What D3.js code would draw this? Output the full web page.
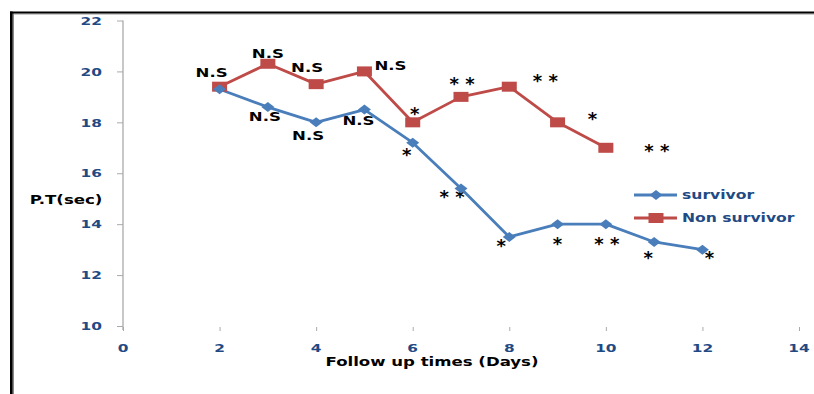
<!DOCTYPE html>
<html>
<head>
<meta charset="utf-8">
<script src="https://cdn.jsdelivr.net/npm/d3@7"></script>
<style>
  body { margin: 0; background: #fff; }
  svg { display: block; font-family: "DejaVu Sans", sans-serif; }
</style>
</head>
<body>
<div id="container"></div>
<script>
/* DATA */
const days = [2, 3, 4, 5, 6, 7, 8, 9, 10, 11, 12];
const survivor = [19.3, 18.6, 18.0, 18.5, 17.2, 15.4, 13.5, 14.0, 14.0, 13.3, 13.0];
const nonSurvivor = [19.4, 20.3, 19.5, 20.0, 18.0, 19.0, 19.4, 18.0, 17.0];
const survivorSig = ["", "N.S", "N.S", "N.S", "*", "* *", "*", "*", "* *", "*", "*"];
const nonSurvivorSig = ["N.S", "N.S", "N.S", "N.S", "*", "* *", "* *", "*", "* *"];
const xTicks = [0, 2, 4, 6, 8, 10, 12, 14];
const yTicks = [10, 12, 14, 16, 18, 20, 22];
const seriesNames = ["survivor", "Non survivor"];

/* LAYOUT */
const width = 814, height = 394;
const blue = "#4a7ebb", red = "#be4b48", tickBlue = "#1f4a84";
const stretch = 1.38; // the picture is squeezed wide, so text is too

// label offsets from their points (px)
const survOff = [null, [-3, 10], [-8, 14], [-6, 11], [-6, 10], [-9, 6], [-8, 7], [0, 18], [1, 18], [-6, 14], [7, 6]];
const nonOff = [[-8, -14], [0, -10], [-9, -16], [26, -6], [2, -10], [1, -15], [36, -8], [35, -5], [51, 1]];

const xScale = d3.scaleLinear().domain([0, 14]).range([123, 799]);
const yScale = d3.scaleLinear().domain([10, 22]).range([326, 20.5]);

const svg = d3.select("#container").append("svg")
  .attr("width", width).attr("height", height);

// frame (only top and left edges are in view)
svg.append("rect").attr("x", 10).attr("y", 13.5).attr("width", width).attr("height", 1).attr("fill", "#999");
svg.append("rect").attr("x", 12.5).attr("y", 12).attr("width", 1.5).attr("height", height).attr("fill", "#888");
svg.append("rect").attr("x", 10).attr("y", 11.5).attr("width", width).attr("height", 2).attr("fill", "#000");
svg.append("rect").attr("x", 10).attr("y", 11.5).attr("width", 2.6).attr("height", height).attr("fill", "#000");

function wideText(g, x, y, txt, opts = {}) {
  return g.append("text")
    .attr("transform", `translate(${x},${y}) scale(${opts.k || stretch},1)`)
    .attr("text-anchor", opts.anchor || "middle")
    .attr("dominant-baseline", opts.baseline || "central")
    .attr("font-size", opts.size || 12)
    .attr("font-weight", opts.weight || "bold")
    .attr("fill", opts.color || "#000")
    .text(txt);
}

/* AXES */
const yAxis = svg.append("g")
  .attr("transform", `translate(${xScale(0)},0)`)
  .call(d3.axisLeft(yScale).tickValues(yTicks).tickSize(6).tickFormat(""));
yAxis.select(".domain").attr("stroke", "#aaa").attr("stroke-width", 1.3)
  .attr("d", `M0,${yScale(22)}V${yScale(10) + 4}`);
yAxis.selectAll(".tick line").attr("stroke", "#aaa");

const xAxis = svg.append("g")
  .attr("transform", `translate(0,${yScale(10)})`)
  .call(d3.axisBottom(xScale).tickValues(xTicks).tickSize(4).tickFormat(""));
xAxis.select(".domain").remove();
xAxis.selectAll(".tick line").attr("stroke", "#aaa").attr("transform", "translate(0,1)");

const labels = svg.append("g");
yTicks.forEach(v => wideText(labels, 102, yScale(v) + 0.5, v, { anchor: "end", size: 11, color: tickBlue, k: 1.4 }));
xTicks.forEach(v => wideText(labels, xScale(v), 348, v, { size: 11, color: tickBlue, k: 1.4 }));

wideText(labels, 66, 200, "P.T(sec)");
wideText(labels, 432, 362, "Follow  up times (Days)");

/* LINES */
const line = d3.line().x(d => xScale(d[0])).y(d => yScale(d[1]));
const survPts = days.map((d, i) => [d, survivor[i]]);
const nonPts = days.slice(0, nonSurvivor.length).map((d, i) => [d, nonSurvivor[i]]);

svg.append("path").datum(nonPts).attr("d", line)
  .attr("fill", "none").attr("stroke", red).attr("stroke-width", 2.8).attr("stroke-linejoin", "round");
svg.append("path").datum(survPts).attr("d", line)
  .attr("fill", "none").attr("stroke", blue).attr("stroke-width", 2.8).attr("stroke-linejoin", "round");

const diamond = "M-6.5,0L0,-5L6.5,0L0,5Z";
svg.selectAll("rect.nonsurv").data(nonPts).join("rect").attr("class", "nonsurv")
  .attr("x", d => xScale(d[0]) - 7.5).attr("y", d => yScale(d[1]) - 5)
  .attr("width", 15).attr("height", 10).attr("fill", red);
svg.selectAll("path.surv").data(survPts).join("path").attr("class", "surv")
  .attr("d", diamond).attr("transform", d => `translate(${xScale(d[0])},${yScale(d[1])})`)
  .attr("fill", blue);

/* SIGNIFICANCE LABELS */
function sigLabel(pt, txt, off) {
  if (!txt) return;
  const x = xScale(pt[0]) + off[0], y = yScale(pt[1]) + off[1];
  // asterisk glyphs sit near the cap line, so hang them from a baseline below the centre
  if (txt.startsWith("*")) wideText(labels, x, y + 8, txt, { size: 18, weight: "bold", k: 1.0, baseline: "alphabetic" });
  else wideText(labels, x, y, txt);
}
survPts.forEach((p, i) => sigLabel(p, survivorSig[i], survOff[i] || [0, 0]));
nonPts.forEach((p, i) => sigLabel(p, nonSurvivorSig[i], nonOff[i]));

/* LEGEND */
const legend = svg.append("g");
[blue, red].forEach((c, i) => {
  const y = 195 + i * 23;
  legend.append("line").attr("x1", 634).attr("x2", 677).attr("y1", y).attr("y2", y)
    .attr("stroke", c).attr("stroke-width", 2.8);
  if (i === 0) legend.append("path").attr("d", diamond).attr("transform", `translate(656,${y})`).attr("fill", c);
  else legend.append("rect").attr("x", 648.5).attr("y", y - 5).attr("width", 15).attr("height", 10).attr("fill", c);
  wideText(legend, 682, y, seriesNames[i], { anchor: "start", size: 12.5, weight: "600", color: tickBlue, k: 1.25 });
});
</script>
</body>
</html>
